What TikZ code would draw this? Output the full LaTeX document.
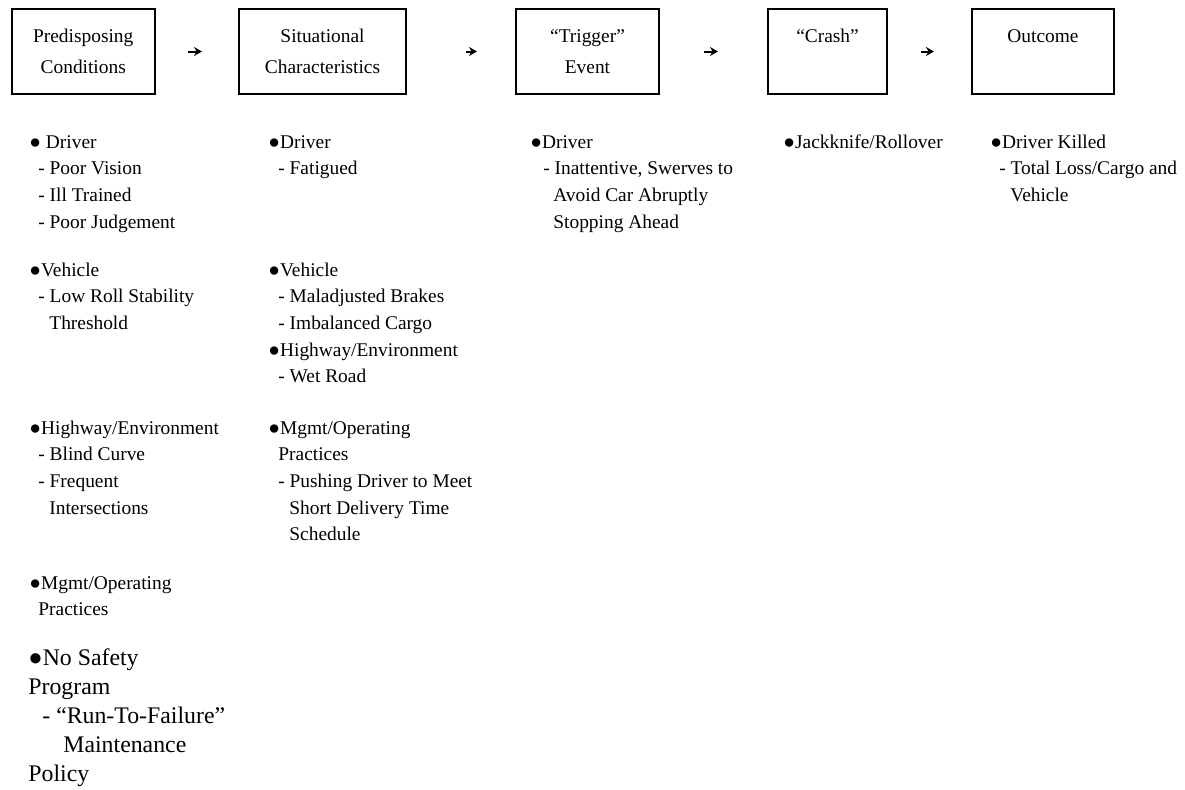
\documentclass[tikz,border=0pt]{standalone}
\usepackage{fontspec}
\setmainfont{Liberation Serif}
\usetikzlibrary{arrows.meta}
\newcommand{\lstfont}{\fontsize{9.7pt}{13.35pt}\selectfont}
\newcommand{\boxfont}{\fontsize{9.7pt}{15.5pt}\selectfont}
\newcommand{\bigfont}{\fontsize{11.9pt}{14.5pt}\selectfont}
\newcommand{\bul}{●}
\newcommand{\dsh}{\hspace*{4.5pt}- }
\newcommand{\cnt}{\hspace*{10pt}}
\tikzset{
  box/.style={draw, line width=1pt, align=center, inner sep=0pt, minimum height=42.5pt, font=\boxfont},
  arr/.style={-{Stealth[length=4pt,width=4.5pt]}, line width=1pt},
  lst/.style={anchor=base west, align=left, inner sep=0pt, font=\lstfont}
}
\begin{document}
\begin{tikzpicture}[x=0.5pt,y=-0.5pt]
  \useasboundingbox (0,0) rectangle (1185,789);
  % stages
  \node[box, minimum width=71.75pt] (pc) at (83.25,51.5) {Predisposing\\Conditions};
  \node[box, minimum width=83.5pt] (sc) at (322.5,51.5) {Situational\\Characteristics};
  \node[box, minimum width=71.5pt] (te) at (587.5,51.5) {“Trigger”\\Event};
  \node[box, minimum width=59.5pt] (cr) at (827.5,51.5) {“Crash”\\\mbox{}};
  \node[box, minimum width=71pt] (oc) at (1043,51.5) {Outcome\\\mbox{}};
  \draw[arr, shorten <=16pt, shorten >=18pt] (pc) -- (sc);
  \draw[arr, shorten <=29.5pt, shorten >=19pt] (sc) -- (te);
  \draw[arr, shorten <=22pt, shorten >=24.5pt] (te) -- (cr);
  \draw[arr, shorten <=16.5pt, shorten >=18.5pt] (cr) -- (oc);
  % predisposing conditions (base = last line)
  \node[lst] (pcdrv) at (29,228.1) {\bul\ Driver\\\dsh Poor Vision\\\dsh Ill Trained\\\dsh Poor Judgement};
  \node[lst] (pcveh) at (29,329.4) {\bul Vehicle\\\dsh Low Roll Stability\\\cnt Threshold};
  \node[lst] (pchwy) at (29,514.1) {\bul Highway/Environment\\\dsh Blind Curve\\\dsh Frequent\\\cnt Intersections};
  \node[lst] (pcmgt) at (29,615.7) {\bul Mgmt/Operating\\\hspace*{4.5pt}Practices};
  \node[lst, font=\bigfont] (pcsaf) at (28,781) {\bul No Safety\\Program\\\hspace*{7pt}- “Run-To-Failure”\\\hspace*{17.5pt}Maintenance\\Policy};
  % situational characteristics
  \node[lst] (scdrv) at (268,174.7) {\bul Driver\\\hspace*{5pt}- Fatigued};
  \node[lst] (scveh) at (268,382.8) {\bul Vehicle\\\hspace*{5pt}- Maladjusted Brakes\\\hspace*{5pt}- Imbalanced Cargo\\\bul Highway/Environment\\\hspace*{5pt}- Wet Road};
  \node[lst] (scmgt) at (268,540.8) {\bul Mgmt/Operating\\\hspace*{5pt}Practices\\\hspace*{5pt}- Pushing Driver to Meet\\\hspace*{10.5pt}Short Delivery Time\\\hspace*{10.5pt}Schedule};
  % trigger event
  \node[lst] (tedrv) at (530,228.1) {\bul Driver\\\hspace*{6.5pt}- Inattentive, Swerves to\\\hspace*{11.5pt}Avoid Car Abruptly\\\hspace*{11.5pt}Stopping Ahead};
  % crash
  \node[lst] (crjk) at (783,148) {\bul Jackknife/Rollover};
  % outcome
  \node[lst] (ocdrv) at (990,201.4) {\bul Driver Killed\\\dsh Total Loss/Cargo and\\\cnt Vehicle};
\end{tikzpicture}
\end{document}
